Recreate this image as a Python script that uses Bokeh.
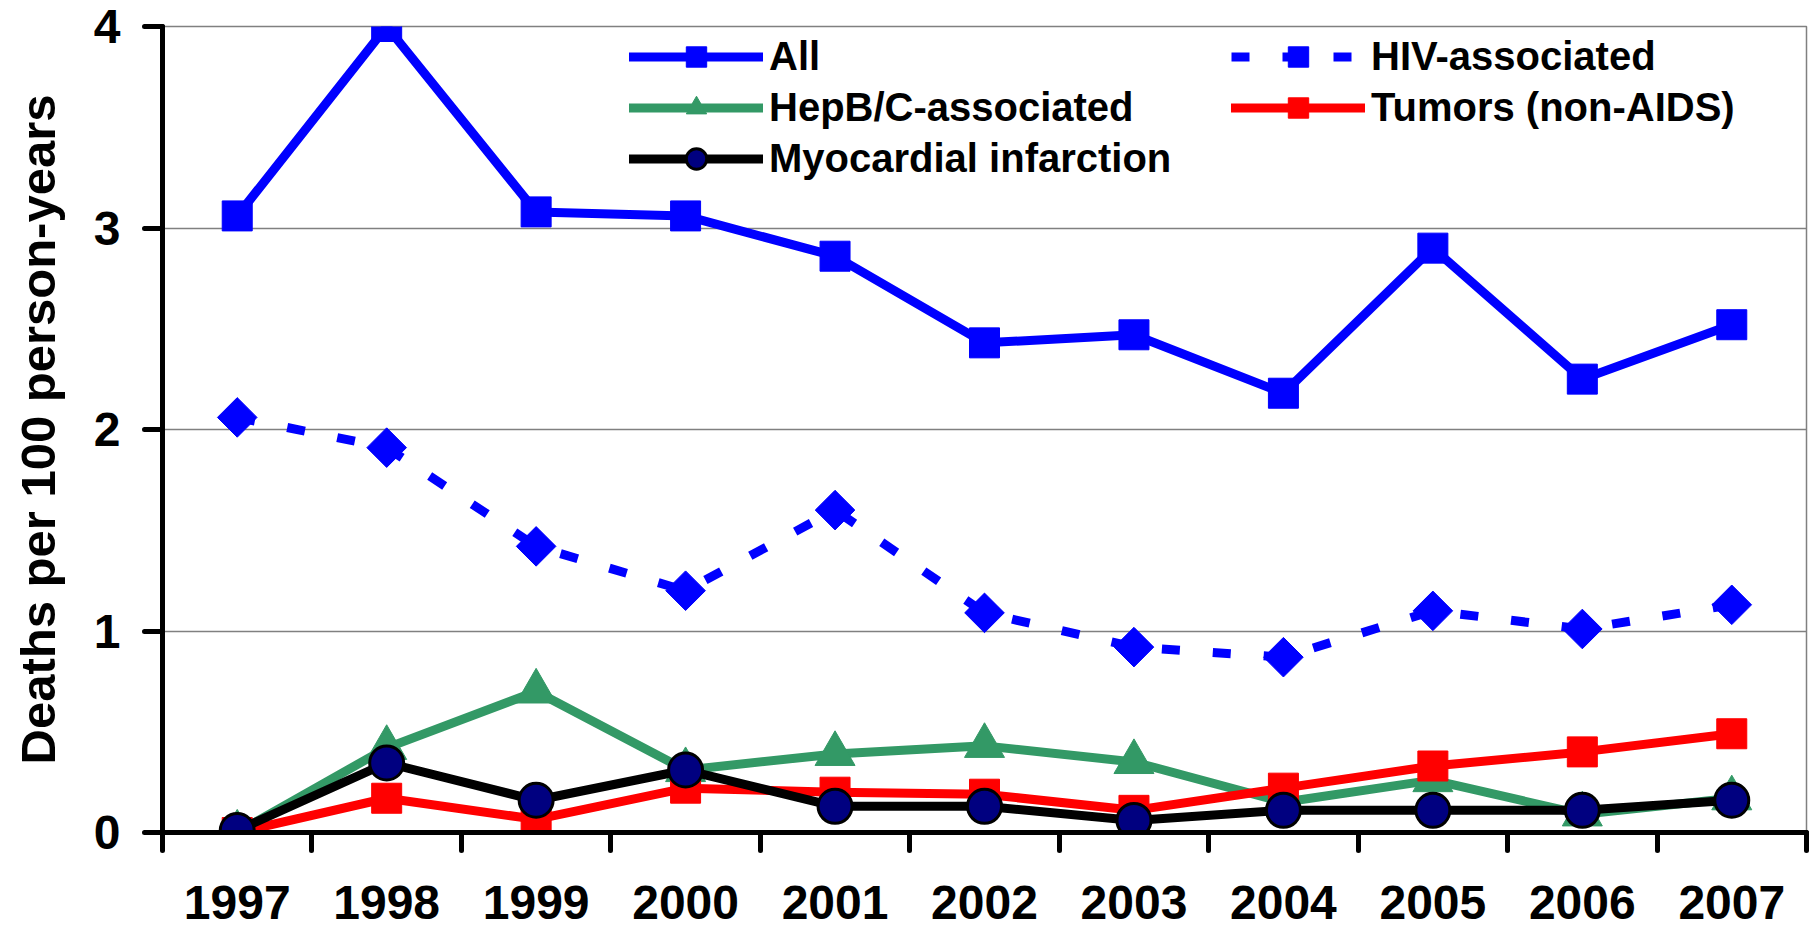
import math
from bokeh.plotting import figure
from bokeh.models import FixedTicker, Legend, LegendItem, Range1d
from bokeh.embed import file_html
from bokeh.resources import INLINE

# ---- data ----
years = [1997, 1998, 1999, 2000, 2001, 2002, 2003, 2004, 2005, 2006, 2007]
all_deaths = [3.06, 4.00, 3.08, 3.06, 2.86, 2.43, 2.47, 2.18, 2.90, 2.25, 2.52]
hiv_assoc = [2.06, 1.91, 1.42, 1.20, 1.60, 1.09, 0.92, 0.87, 1.10, 1.01, 1.13]
hep_assoc = [0.00, 0.42, 0.70, 0.31, 0.39, 0.43, 0.35, 0.15, 0.26, 0.09, 0.17]
tumors = [0.00, 0.17, 0.065, 0.22, 0.20, 0.19, 0.11, 0.22, 0.33, 0.40, 0.49]
myocardial = [0.01, 0.345, 0.16, 0.31, 0.13, 0.13, 0.06, 0.11, 0.11, 0.11, 0.16]
y_ticks = [0, 1, 2, 3, 4]
y_label = "Deaths per 100 person-years"

FONT = "Liberation Sans"
BLUE = "#0000FF"
GREEN = "#339966"
RED = "#FF0000"
NAVY = "#000080"

p = figure(width=1809, height=928, output_backend="svg", toolbar_location=None,
           x_range=Range1d(years[0] - 0.5, years[-1] + 0.5),
           y_range=Range1d(y_ticks[0], y_ticks[-1]),
           min_border_left=162, min_border_top=26, min_border_right=3,
           min_border_bottom=96)

p.background_fill_color = "white"
p.border_fill_color = "white"
p.outline_line_color = "#808080"
p.outline_line_width = 1.5

p.xgrid.visible = False
p.ygrid.ticker = FixedTicker(ticks=y_ticks)
p.ygrid.grid_line_color = "#808080"
p.ygrid.grid_line_width = 1.5

# x axis: labels at year centres, tick marks between categories
xa = p.xaxis[0]
bounds = [years[0] - 0.5] + [y + 0.5 for y in years]
xa.ticker = FixedTicker(ticks=years, minor_ticks=bounds)
xa.major_label_overrides = {y: str(y) for y in years}
xa.major_tick_out = 0
xa.major_tick_in = 0
xa.minor_tick_out = 18
xa.minor_tick_in = 0
xa.minor_tick_line_width = 5
xa.minor_tick_line_color = "black"
xa.minor_tick_line_cap = "round"
xa.axis_line_width = 5
xa.axis_line_color = "black"
xa.axis_line_cap = "round"
xa.major_label_text_font = FONT
xa.major_label_text_font_style = "bold"
xa.major_label_text_font_size = "48px"
xa.major_label_text_color = "black"
xa.major_label_standoff = 35

ya = p.yaxis[0]
ya.ticker = FixedTicker(ticks=y_ticks, minor_ticks=[])
ya.major_tick_out = 18
ya.major_tick_in = 0
ya.minor_tick_out = 0
ya.minor_tick_in = 0
ya.major_tick_line_width = 5
ya.major_tick_line_color = "black"
ya.major_tick_line_cap = "round"
ya.axis_line_width = 5
ya.axis_line_color = "black"
ya.axis_line_cap = "round"
ya.major_label_text_font = FONT
ya.major_label_text_font_style = "bold"
ya.major_label_text_font_size = "48px"
ya.major_label_text_color = "black"
ya.major_label_standoff = 24
ya.axis_label = y_label
ya.axis_label_text_font = FONT
ya.axis_label_text_font_style = "bold"
ya.axis_label_text_font_size = "49px"
ya.axis_label_text_color = "black"
ya.axis_label_standoff = 26

LW = 9

# All
l_all = p.line(years, all_deaths, line_color=BLUE, line_width=LW, line_join="round", line_cap="round")
s_all = p.scatter(years, all_deaths, marker="square", size=30, fill_color=BLUE, line_color=BLUE, line_width=1)
# HIV-associated
l_hiv = p.line(years, hiv_assoc, line_color=BLUE, line_width=LW, line_dash="18 33")
s_hiv = p.scatter(years, hiv_assoc, marker="square", angle=math.pi / 4, size=28, fill_color=BLUE, line_color=BLUE, line_width=1)
# HepB/C-associated
l_hep = p.line(years, hep_assoc, line_color=GREEN, line_width=LW, line_join="round", line_cap="round")
s_hep = p.scatter(years, hep_assoc, marker="triangle", size=40, fill_color=GREEN, line_color=GREEN, line_width=1)
# Tumors
l_tum = p.line(years, tumors, line_color=RED, line_width=LW, line_join="round", line_cap="round")
s_tum = p.scatter(years, tumors, marker="square", size=30, fill_color=RED, line_color=RED, line_width=1)
# Myocardial infarction
l_mi = p.line(years, myocardial, line_color="black", line_width=LW, line_join="round", line_cap="round")
s_mi = p.scatter(years, myocardial, marker="circle", size=34, fill_color=NAVY, line_color="black", line_width=3)


def style_legend(lg):
    lg.border_line_color = None
    lg.background_fill_alpha = 0
    lg.padding = 0
    lg.margin = 0
    lg.label_text_font = FONT
    lg.label_text_font_style = "bold"
    lg.label_text_font_size = "40px"
    lg.label_text_color = "black"
    lg.glyph_width = 134
    lg.glyph_height = 51
    lg.label_height = 40
    lg.spacing = 0
    lg.label_standoff = 6


leg1 = Legend(items=[LegendItem(label="All", renderers=[l_all, s_all]),
                     LegendItem(label="HepB/C-associated", renderers=[l_hep, s_hep]),
                     LegendItem(label="Myocardial infarction", renderers=[l_mi, s_mi])],
              location=(467, 648))
style_legend(leg1)
leg2 = Legend(items=[LegendItem(label="HIV-associated", renderers=[l_hiv, s_hiv]),
                     LegendItem(label="Tumors (non-AIDS)", renderers=[l_tum, s_tum])],
              location=(1069, 699))
style_legend(leg2)
p.add_layout(leg1)
p.add_layout(leg2)

open("out.html", "w").write(file_html(p, INLINE))
